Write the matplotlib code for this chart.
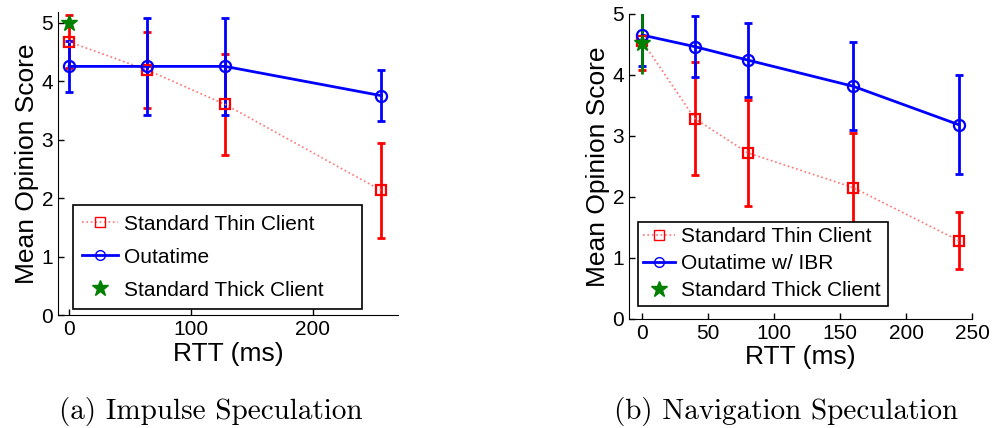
import numpy as np
import matplotlib
matplotlib.use("Agg")
import matplotlib.pyplot as plt

plt.rcParams['font.family'] = ['Liberation Sans', 'DejaVu Sans']

# (a) Impulse speculation
rtt_a = [0, 64, 128, 256]
thin_a = [4.67, 4.19, 3.60, 2.13]
thin_a_err = [0.45, 0.65, 0.87, 0.81]
outa_a = [4.25, 4.25, 4.25, 3.75]
outa_a_err = [0.43, 0.83, 0.83, 0.43]
thick_a = [5.0]
thick_a_err = [0.0]

# (b) Navigation speculation
rtt_b = [0, 40, 80, 160, 240]
thin_b = [4.55, 3.28, 2.72, 2.15, 1.28]
thin_b_err = [0.47, 0.93, 0.87, 0.90, 0.47]
outa_b = [4.65, 4.46, 4.24, 3.81, 3.18]
outa_b_err = [0.50, 0.50, 0.60, 0.72, 0.81]
thick_b = [4.52]
thick_b_err = [0.50]

RED = (1, 0, 0)
BLUE = (0, 0, 1)
GREEN = (0, 0.5, 0)
PINK = (1, 0.45, 0.45)


def panel(ax, x, thin, thin_err, outa, outa_err, thick, thick_err,
          outa_label, xlim, ylim, xticks, leg_bbox, leg_space, leg_pad,
          handle_len):
    ax.errorbar(x, thin, yerr=thin_err, fmt='none', ecolor=RED,
                elinewidth=2, capsize=3, capthick=2)
    ax.errorbar(x, outa, yerr=outa_err, fmt='none', ecolor=BLUE,
                elinewidth=2, capsize=3, capthick=2)
    if thick_err[0] > 0:
        ax.errorbar([0], thick, yerr=thick_err, fmt='none', ecolor=GREEN,
                    elinewidth=2, capsize=0)
    ax.plot(x, thin, ':', color=PINK, lw=1.2, zorder=3)
    ax.plot(x, thin, 's', mfc='none', mec=RED, mew=1.6, ms=7.5, zorder=4)
    ax.plot(x, outa, '-', color=BLUE, lw=2, zorder=3)
    ax.plot(x, outa, 'o', mfc='none', mec=BLUE, mew=1.6, ms=8, zorder=4)
    ax.plot([0], thick, '*', color=GREEN, ms=12, zorder=5)

    # legend handles without the errorbars
    h1, = ax.plot([], [], ':s', color=PINK, mfc='none', mec=RED,
                  lw=1.2, ms=7, mew=1)
    h2, = ax.plot([], [], '-o', color=BLUE, mfc='none', mec=BLUE, lw=2,
                  ms=7, mew=1)
    h3, = ax.plot([], [], '*', color=GREEN, ms=12, lw=0)
    leg = ax.legend([h1, h2, h3],
                    ['Standard Thin Client', outa_label, 'Standard Thick Client'],
                    loc='lower left', bbox_to_anchor=leg_bbox, mode='expand',
                    borderaxespad=0, fontsize=15,
                    frameon=True, fancybox=False, edgecolor='black',
                    framealpha=1, handlelength=handle_len, handletextpad=0.3,
                    borderpad=leg_pad, labelspacing=leg_space)
    leg.get_frame().set_linewidth(1.2)

    ax.set_xlim(*xlim)
    ax.set_ylim(*ylim)
    ax.set_xticks(xticks)
    ax.set_yticks(range(6))
    ax.tick_params(direction='in', labelsize=15, length=4, width=1)
    for side in ('top', 'right'):
        ax.spines[side].set_visible(False)
    ax.set_xlabel('RTT (ms)', fontsize=19, labelpad=2)
    ax.set_ylabel('Mean Opinion Score', fontsize=19, labelpad=2)


fig = plt.figure(figsize=(9.92, 4.28), dpi=100)
ax1 = fig.add_axes([0.0585, 0.264, 0.343, 0.708])
ax2 = fig.add_axes([0.634, 0.255, 0.346, 0.713])

panel(ax1, rtt_a, thin_a, thin_a_err, outa_a, outa_a_err, thick_a, thick_a_err,
      'Outatime', (-9, 270), (0, 5.18), [0, 100, 200],
      (0.044, 0.02, 0.85, 0.35), 0.67, 0.45, 1.7)
panel(ax2, rtt_b, thin_b, thin_b_err, outa_b, outa_b_err, thick_b, thick_b_err,
      'Outatime w/ IBR', (-10, 250), (0, 5), [0, 50, 100, 150, 200, 250],
      (0.026, 0.043, 0.729, 0.29), 0.38, 0.27, 1.5)

fig.text(0.212, 0.022, '(a) Impulse Speculation', fontname='cmr10',
         fontsize=21, ha='center', va='baseline')
fig.text(0.7925, 0.022, '(b) Navigation Speculation', fontname='cmr10',
         fontsize=21, ha='center', va='baseline')

fig.savefig('out.png', dpi=100)
